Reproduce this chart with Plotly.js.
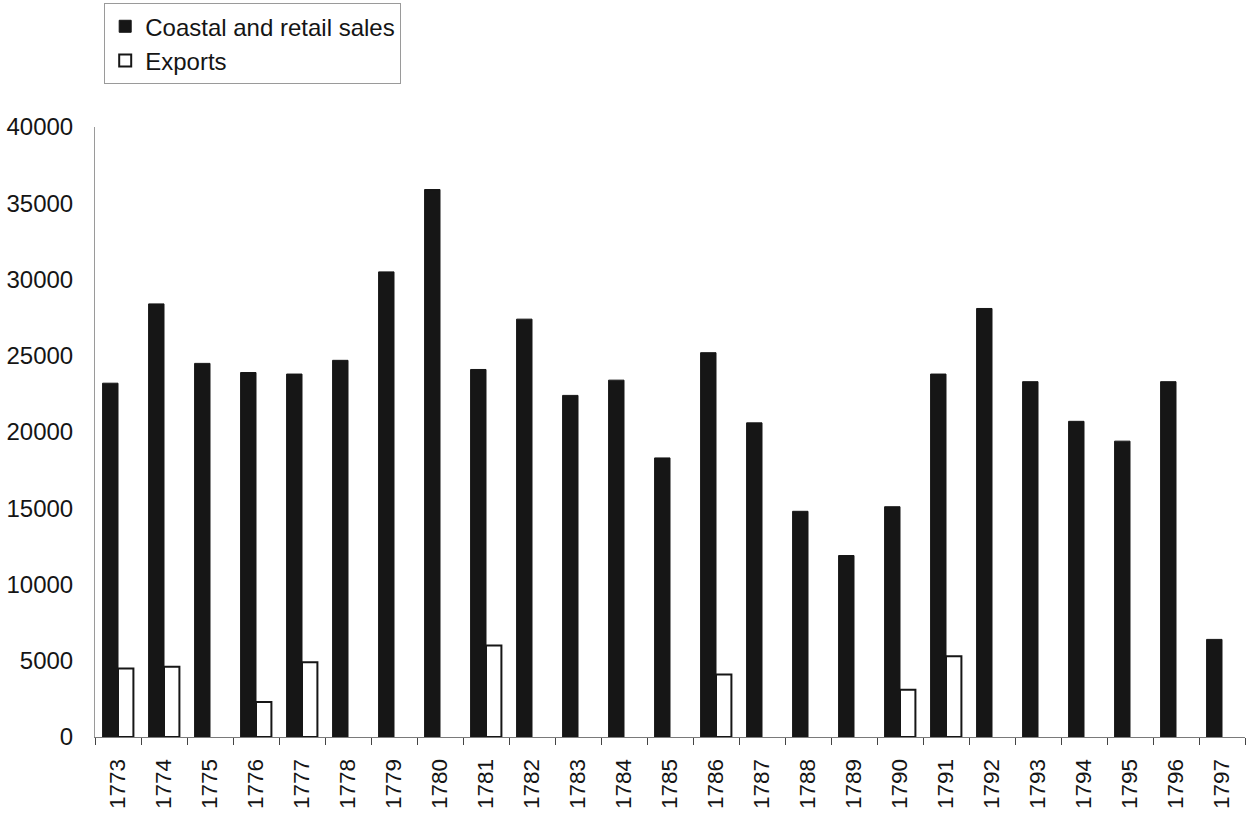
<!DOCTYPE html>
<html>
<head>
<meta charset="utf-8">
<script src="https://cdn.plot.ly/plotly-3.0.1.min.js"></script>
<style>
  html, body { margin: 0; padding: 0; background: #fff; }
  #chart { width: 1256px; height: 818px; }
</style>
</head>
<body>
<div id="chart"></div>
<script>
// Years on the category axis
const years = ['1773','1774','1775','1776','1777','1778','1779','1780','1781','1782',
               '1783','1784','1785','1786','1787','1788','1789','1790','1791','1792',
               '1793','1794','1795','1796','1797'];

// Coastal and retail sales per year
const coastalRetail = [23200, 28400, 24500, 23900, 23800, 24700, 30500, 35900, 24100, 27400,
                       22400, 23400, 18300, 25200, 20600, 14800, 11900, 15100, 23800, 28100,
                       23300, 20700, 19400, 23300, 6400];

// Exports per year (no exports recorded in the other years)
const exportsVals = [4500, 4600, null, 2300, 4900, null, null, null, 6000, null,
                     null, null, null, 4100, null, null, null, 3100, 5300, null,
                     null, null, null, null, null];

const yTicks = [0, 5000, 10000, 15000, 20000, 25000, 30000, 35000, 40000];

const FONT = '"Liberation Sans", Arial, sans-serif';

const traces = [
  {
    type: 'bar',
    name: 'Coastal and retail sales',
    x: years,
    y: coastalRetail,
    marker: { color: '#161616', line: { color: '#161616', width: 1 } }
  },
  {
    type: 'bar',
    name: 'Exports',
    x: years,
    y: exportsVals,
    marker: { color: '#ffffff', line: { color: '#161616', width: 2 } }
  }
];

const layout = {
  width: 1256,
  height: 818,
  // fixed plot area; the legend sits in the top margin without pushing it
  margin: { l: 95, r: 11, t: 127, b: 81, autoexpand: false },
  paper_bgcolor: '#ffffff',
  plot_bgcolor: '#ffffff',
  font: { family: FONT, color: '#151515', size: 22 },
  barmode: 'group',
  bargap: 0.33,
  bargroupgap: 0,
  showlegend: true,
  legend: {
    x: 0.008, xanchor: 'left',
    y: 1.203, yanchor: 'top',
    font: { family: FONT, size: 24, color: '#151515' },
    bgcolor: 'rgba(255,255,255,0)',
    bordercolor: '#9a9a9a',
    borderwidth: 1,
    itemwidth: 30,
    traceorder: 'normal'
  },
  xaxis: {
    type: 'category',
    tickangle: -90,
    tickfont: { family: FONT, size: 22.5, color: '#151515' },
    ticks: 'outside',
    tickson: 'boundaries',
    ticklen: 7,
    tickwidth: 1,
    tickcolor: '#444',
    ticklabelstandoff: 12,
    showline: true,
    linecolor: '#7a7a7a',
    linewidth: 1,
    showgrid: false,
    zeroline: false,
    fixedrange: true
  },
  yaxis: {
    range: [0, 40000],
    tickmode: 'array',
    tickvals: yTicks,
    ticktext: yTicks.map(String),
    tickfont: { family: FONT, size: 24, color: '#151515' },
    ticks: '',
    ticklabelstandoff: 16,
    showline: true,
    linecolor: '#9a9a9a',
    linewidth: 1,
    showgrid: false,
    zeroline: false,
    fixedrange: true
  }
};

Plotly.newPlot('chart', traces, layout, { displayModeBar: false, staticPlot: true });
</script>
</body>
</html>
